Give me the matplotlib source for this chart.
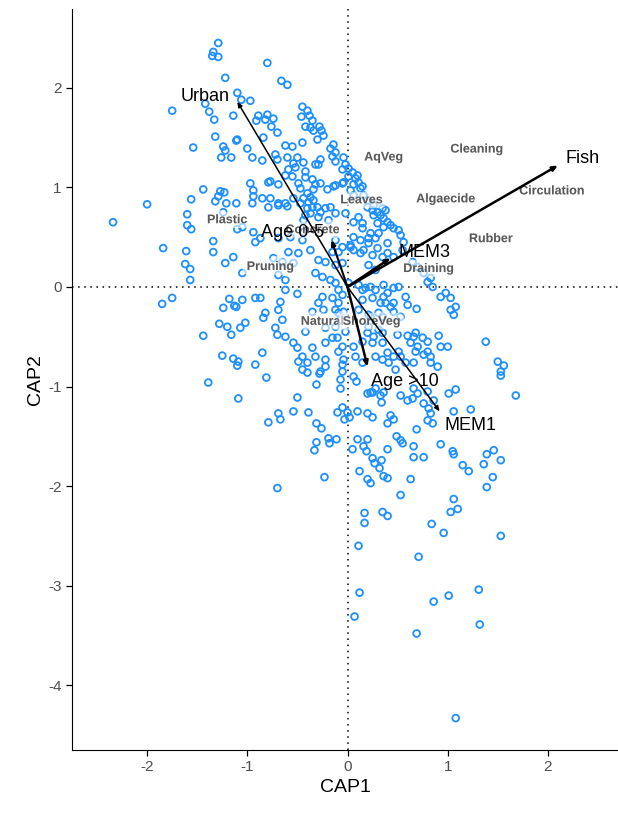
import numpy as np
import matplotlib
matplotlib.use("Agg")
import matplotlib.pyplot as plt
import matplotlib.patheffects as pe

plt.rcParams["font.family"] = ["Liberation Sans", "DejaVu Sans"]
plt.rcParams["axes.unicode_minus"] = False

# site scores on the first two constrained axes
site_scores = [
    (-1.29, 2.45), (-1.34, 2.36), (-1.35, 2.32), (-1.29, 2.31), (-1.22, 2.10),
    (-1.10, 1.95), (-1.75, 1.77), (-1.38, 1.76), (-1.42, 1.84), (-1.33, 1.68),
    (-1.14, 1.72), (-1.32, 1.51), (-1.11, 1.47), (-1.54, 1.40), (-1.24, 1.41),
    (-1.22, 1.37), (-1.26, 1.30), (-1.16, 1.30), (-1.44, 0.98), (-1.27, 0.96),
    (-1.23, 0.95), (-1.29, 0.91), (-1.56, 0.88), (-1.32, 0.86), (-1.21, 0.84),
    (-1.11, 0.84), (-2.00, 0.83),
    (-0.80, 2.25), (-0.66, 2.07), (-0.60, 2.03), (-1.06, 1.88), (-0.97, 1.87),
    (-0.45, 1.81), (-0.40, 1.77), (-0.46, 1.71), (-0.38, 1.72), (-0.35, 1.67),
    (-0.89, 1.72), (-0.80, 1.73), (-0.74, 1.69), (-0.82, 1.68), (-0.91, 1.67),
    (-0.42, 1.61), (-0.37, 1.60), (-0.28, 1.61), (-0.26, 1.57), (-0.76, 1.61),
    (-0.70, 1.55), (-0.34, 1.57), (-0.24, 1.52), (-0.30, 1.48), (-1.10, 1.48),
    (-0.84, 1.50), (-0.45, 1.45), (-0.62, 1.42), (-0.55, 1.41), (-0.14, 1.43),
    (-0.17, 1.39), (-0.12, 1.35), (-1.00, 1.39), (-0.95, 1.30), (-0.85, 1.27),
    (-0.72, 1.33), (-0.70, 1.28), (-0.60, 1.30), (-0.50, 1.30), (-0.44, 1.25),
    (-0.54, 1.24), (-0.27, 1.28), (-0.29, 1.23), (-0.15, 1.31), (-0.12, 1.26),
    (-0.04, 1.30), (-0.02, 1.23), (0.01, 1.19), (-0.05, 1.18), (0.05, 1.15),
    (0.10, 1.12), (0.08, 1.09), (0.01, 1.11), (-0.59, 1.18), (-0.52, 1.20),
    (-0.42, 1.16), (-0.55, 1.11), (-0.42, 1.10), (-0.62, 1.12), (-0.77, 1.06),
    (-0.79, 1.05), (-0.69, 1.03), (-0.97, 1.04), (-0.49, 1.04), (-0.47, 0.99),
    (-0.32, 1.03), (-0.27, 1.04), (-0.34, 0.98), (-0.20, 0.98), (-0.12, 1.02),
    (-0.05, 1.04), (0.06, 1.03), (0.13, 0.99), (-0.94, 0.97), (-0.94, 0.91),
    (-0.85, 0.89), (-0.77, 0.89), (-0.62, 0.84), (-0.54, 0.89), (-0.44, 0.89),
    (-0.37, 0.90), (-0.39, 0.85), (-0.69, 0.84),
    (0.11, 1.05), (0.15, 1.01), (-0.32, 1.23), (-0.35, 1.08), (-0.40, 0.94),
    (-0.34, 0.87), (-0.30, 0.80), (-0.37, 0.74), (-0.44, 0.67), (-0.22, 0.79),
    (-0.17, 0.80), (-0.12, 0.74), (-0.19, 0.67), (0.06, 0.65), (0.11, 0.70),
    (0.15, 0.64), (-0.14, 1.01), (-0.04, 1.05), (0.03, 0.97), (0.06, 0.92),
    (0.16, 0.92), (0.20, 0.87), (0.26, 0.82), (0.20, 0.80), (0.25, 0.77),
    (0.30, 0.75), (0.33, 0.72), (0.36, 0.69), (0.40, 0.65), (0.43, 0.62),
    (0.46, 0.59), (0.51, 0.57), (0.36, 0.60), (0.30, 0.64), (0.15, 0.59),
    (0.23, 0.54), (0.28, 0.49), (0.21, 0.44), (0.13, 0.47), (0.06, 0.50),
    (0.03, 0.40), (0.16, 0.37), (0.30, 0.39), (0.40, 0.44), (0.55, 0.37),
    (-2.34, 0.65), (-1.60, 0.73), (-1.60, 0.62), (-1.56, 0.58), (-1.84, 0.39),
    (-1.61, 0.36), (-1.34, 0.46), (-1.34, 0.35), (-1.22, 0.24), (-1.14, 0.30),
    (-1.62, 0.23), (-1.57, 0.18), (-1.57, 0.07), (-1.75, -0.11), (-1.85, -0.17),
    (-1.18, -0.12), (-1.24, -0.21), (-1.13, -0.19), (-1.28, -0.37), (-1.20, -0.40),
    (-1.16, -0.48), (-1.44, -0.49), (-1.25, -0.69), (-1.14, -0.72), (-1.10, -0.79),
    (-1.24, 0.75), (-1.10, 0.58),
    (-0.95, 0.84), (-0.79, 0.80), (-0.69, 0.82), (-0.60, 0.81), (-0.47, 0.84),
    (-0.40, 0.79), (-0.35, 0.80), (-0.27, 0.75), (-0.42, 0.72), (-0.29, 0.70),
    (-0.02, 0.74), (0.26, 0.72), (0.35, 0.79), (-1.05, 0.60), (-0.94, 0.55),
    (-0.87, 0.49), (-0.92, 0.45), (-0.69, 0.49), (-0.57, 0.50), (-0.45, 0.47),
    (-0.44, 0.55), (-0.12, 0.47), (-0.05, 0.40), (0.03, 0.42), (0.21, 0.49),
    (0.31, 0.54), (-0.59, 0.35), (-0.49, 0.34), (-0.37, 0.37), (-0.15, 0.35),
    (-0.09, 0.35), (0.06, 0.37), (0.13, 0.34), (0.25, 0.32), (0.35, 0.30),
    (-0.74, 0.29), (-0.65, 0.25), (-0.54, 0.24), (-0.29, 0.27), (-0.22, 0.25),
    (-0.12, 0.22), (-0.05, 0.24), (0.21, 0.22), (0.28, 0.17), (-1.05, 0.14),
    (-0.69, 0.12), (-0.62, 0.07), (-0.32, 0.14), (-0.25, 0.10), (-0.17, 0.07),
    (-0.12, 0.04), (0.01, 0.04), (0.11, 0.02), (0.18, -0.01), (0.28, -0.03),
    (0.36, 0.02), (-0.62, -0.03), (-0.50, -0.07), (-0.25, -0.10), (-0.15, -0.11),
    (-0.29, -0.16), (-0.09, -0.16), (0.15, -0.13), (0.25, -0.11), (0.33, -0.16),
    (-1.05, -0.13), (-0.92, -0.11), (-0.87, -0.11), (-0.67, -0.15), (-0.69, -0.23),
    (-1.11, -0.20), (-0.82, -0.26), (-0.84, -0.31), (-0.65, -0.33), (-0.35, -0.25),
    (-0.24, -0.23), (-0.09, -0.26), (0.11, -0.23), (0.21, -0.28), (0.31, -0.26),
    (-1.02, -0.36), (-1.07, -0.41), (-0.72, -0.41), (-0.70, -0.48), (-0.62, -0.50),
    (-0.42, -0.45), (-0.22, -0.41), (-0.12, -0.40), (-0.02, -0.45), (0.21, -0.40),
    (0.31, -0.43), (0.35, -0.46), (-0.54, -0.56), (-0.50, -0.61), (-0.35, -0.61),
    (-0.22, -0.56), (-0.15, -0.51), (-0.05, -0.60), (0.06, -0.60), (0.15, -0.55),
    (0.25, -0.56), (0.35, -0.56), (-0.85, -0.66), (-0.45, -0.70), (-0.32, -0.70),
    (-0.22, -0.73), (-0.09, -0.65), (0.08, -0.70), (0.28, -0.70), (-0.49, -0.75),
    (-0.40, -0.76), (-0.92, -0.78), (-1.09, -0.75), (-0.22, -0.80), (-0.05, -0.78),
    (0.15, -0.76), (0.35, -0.73), (-0.45, -0.83), (-0.27, -0.85), (-0.05, -0.85),
    (0.38, 0.77), (0.53, 0.52), (0.56, 0.45), (0.40, 0.34), (0.46, 0.30),
    (0.65, 0.25), (0.70, 0.20), (0.76, 0.14), (0.83, 0.09), (0.80, 0.05),
    (0.85, 0.00), (0.46, -0.01), (0.51, 0.00), (0.58, -0.10), (0.93, -0.10),
    (0.98, -0.06), (1.03, -0.11), (1.08, -0.20), (1.03, -0.23), (1.06, -0.28),
    (0.69, -0.22), (0.36, -0.10), (0.38, -0.16), (0.43, -0.20), (0.46, -0.25),
    (0.35, -0.30), (0.91, -0.49), (0.93, -0.60), (1.00, -0.60), (1.38, -0.55),
    (0.60, -0.49), (0.66, -0.50), (0.63, -0.56), (0.70, -0.60), (0.75, -0.51),
    (0.68, -0.65), (0.76, -0.68), (0.80, -0.65), (0.83, -0.70), (0.53, -0.70),
    (0.58, -0.76), (0.66, -0.76), (0.83, -0.76), (0.90, -0.80), (1.50, -0.75),
    (1.56, -0.79), (1.53, -0.85), (0.40, -0.66), (0.46, -0.70), (0.41, -0.76),
    (0.48, -0.83),
    (-0.09, -0.03), (-0.05, -0.08), (0.15, -0.03), (0.23, 0.00), (0.40, -0.06),
    (0.46, -0.16), (0.60, -0.18), (-0.12, -0.23), (-0.04, -0.25), (-0.07, -0.33),
    (0.53, -0.30), (0.23, -0.30), (-0.10, -0.51), (0.20, -0.46), (0.26, -0.50),
    (0.50, -0.48), (0.68, -0.46), (0.80, -0.55), (0.51, -0.65), (-0.04, -0.73),
    (0.06, -0.90), (-0.07, -1.02), (0.23, -1.06), (0.33, -1.09), (0.53, -1.09),
    (0.60, -1.14), (0.86, -1.14),
    (-1.39, -0.96), (-1.09, -1.12),
    (-0.81, -0.91), (-0.40, -0.86), (-0.28, -0.87), (-0.31, -0.98), (-0.50, -1.11),
    (-0.07, -0.93), (0.09, -0.95), (-0.69, -1.27), (-0.67, -1.33), (-0.79, -1.36),
    (-0.54, -1.25), (-0.39, -1.26), (-0.31, -1.37), (-0.26, -1.42), (-0.10, -1.26),
    (-0.05, -1.21), (0.00, -1.26), (-0.03, -1.33), (0.02, -1.31), (0.10, -1.25),
    (0.20, -1.27), (0.25, -1.31), (0.20, -1.07), (0.25, -1.06), (0.34, -1.16),
    (0.28, -1.02), (0.36, -1.06), (-0.31, -1.56), (-0.33, -1.64), (-0.19, -1.52),
    (-0.11, -1.53), (-0.18, -1.57), (0.10, -1.53), (0.20, -1.53), (0.05, -1.63),
    (0.16, -1.60), (0.19, -1.65), (0.25, -1.72), (0.27, -1.77), (0.34, -1.74),
    (0.32, -1.82), (0.36, -1.90), (0.12, -1.85), (0.20, -1.93), (0.23, -1.97),
    (-0.23, -1.91), (-0.70, -2.02), (0.17, -2.27), (0.17, -2.37), (0.35, -2.26),
    (1.53, -0.89), (1.68, -1.09), (0.66, -1.02), (0.65, -1.12), (0.70, -1.07),
    (0.80, -1.05), (1.01, -1.07), (1.08, -1.03), (0.76, -1.17), (0.81, -1.22),
    (0.83, -1.27), (0.80, -1.34), (0.85, -1.37), (1.06, -1.25), (1.23, -1.23),
    (0.43, -1.29), (0.46, -1.33), (0.40, -1.37), (0.69, -1.43), (0.49, -1.50),
    (0.53, -1.54), (0.55, -1.57), (0.40, -1.63), (0.66, -1.60), (0.93, -1.58),
    (1.05, -1.65), (1.06, -1.68), (0.66, -1.71), (0.76, -1.71), (0.40, -1.92),
    (0.63, -1.93), (1.15, -1.79), (1.21, -1.85), (1.39, -1.68), (1.46, -1.64),
    (1.36, -1.78), (1.53, -1.74), (1.45, -1.91), (1.39, -2.01), (0.53, -2.09),
    (1.06, -2.13), (1.10, -2.23), (1.03, -2.26), (0.40, -2.30), (0.84, -2.38),
    (0.96, -2.47), (1.53, -2.50),
    (0.11, -2.60), (0.71, -2.71), (0.12, -3.07), (0.07, -3.31), (0.86, -3.16),
    (1.01, -3.10), (1.31, -3.04), (1.32, -3.39), (0.69, -3.48), (1.08, -4.33),
]
cap1, cap2 = np.array(site_scores).T

# fitted explanatory vectors (arrows)
vec_names = ["Urban", "Fish", "MEM3", "Age 0-5", "Age >10", "MEM1"]
vec_cap1 = [-1.10, 2.10, 0.43, -0.16, 0.20, 0.92]
vec_cap2 = [1.86, 1.22, 0.29, 0.47, -0.80, -1.25]
vec_lab_cap1 = [-1.42, 2.35, 0.77, -0.55, 0.57, 1.23]
vec_lab_cap2 = [1.91, 1.29, 0.35, 0.55, -0.95, -1.39]
vec_lw = [1.1, 1.8, 1.8, 1.5, 1.8, 1.1]

# management factor centroids
fac_names = ["AqVeg", "Cleaning", "Circulation", "Leaves", "Algaecide", "Plastic",
             "Rubber", "Concrete", "Pruning", "Draining", "Natural", "ShoreVeg"]
fac_cap1 = [0.36, 1.29, 2.04, 0.14, 0.98, -1.20, 1.43, -0.35, -0.77, 0.81, -0.25, 0.24]
fac_cap2 = [1.30, 1.38, 0.96, 0.87, 0.88, 0.67, 0.48, 0.57, 0.20, 0.18, -0.35, -0.35]

fig = plt.figure(figsize=(6.18, 8.15), dpi=100)
ax = fig.add_axes([0.1165, 0.0798, 0.8835, 0.909])

ax.axhline(0, color="black", lw=1.1, ls=(0, (1, 3)), zorder=1)
ax.axvline(0, color="black", lw=1.1, ls=(0, (1, 3)), zorder=1)

ax.scatter(cap1, cap2, s=24, facecolors="none", edgecolors="#1E8FFF",
           linewidths=1.3, zorder=2)

halo = [pe.withStroke(linewidth=7, foreground="white", alpha=0.6)]
for name, x, y in zip(fac_names, fac_cap1, fac_cap2):
    ax.text(x, y, name, fontsize=9, fontweight="bold", color="#5a5a5a",
            ha="center", va="center", path_effects=halo, zorder=3)

for name, x, y, lx, ly, lw in zip(vec_names, vec_cap1, vec_cap2,
                                  vec_lab_cap1, vec_lab_cap2, vec_lw):
    ax.annotate("", xy=(x, y), xytext=(0, 0), zorder=4,
                arrowprops=dict(arrowstyle="-|>,head_length=0.3,head_width=0.13",
                                color="black", lw=lw, shrinkA=0, shrinkB=0))
    ax.text(lx, ly, name, fontsize=13, color="black", ha="center",
            va="center", zorder=5)

ax.set_xlim(-2.75, 2.70)
ax.set_ylim(-4.65, 2.79)
ax.set_xticks([-2, -1, 0, 1, 2])
ax.set_yticks([-4, -3, -2, -1, 0, 1, 2])
ax.set_xlabel("CAP1", fontsize=14, labelpad=3)
ax.set_ylabel("CAP2", fontsize=14, labelpad=3)
ax.tick_params(labelsize=11, labelcolor="#4d4d4d", length=4, width=0.9)
ax.spines["top"].set_visible(False)
ax.spines["right"].set_visible(False)

fig.savefig("out.png", dpi=100)
